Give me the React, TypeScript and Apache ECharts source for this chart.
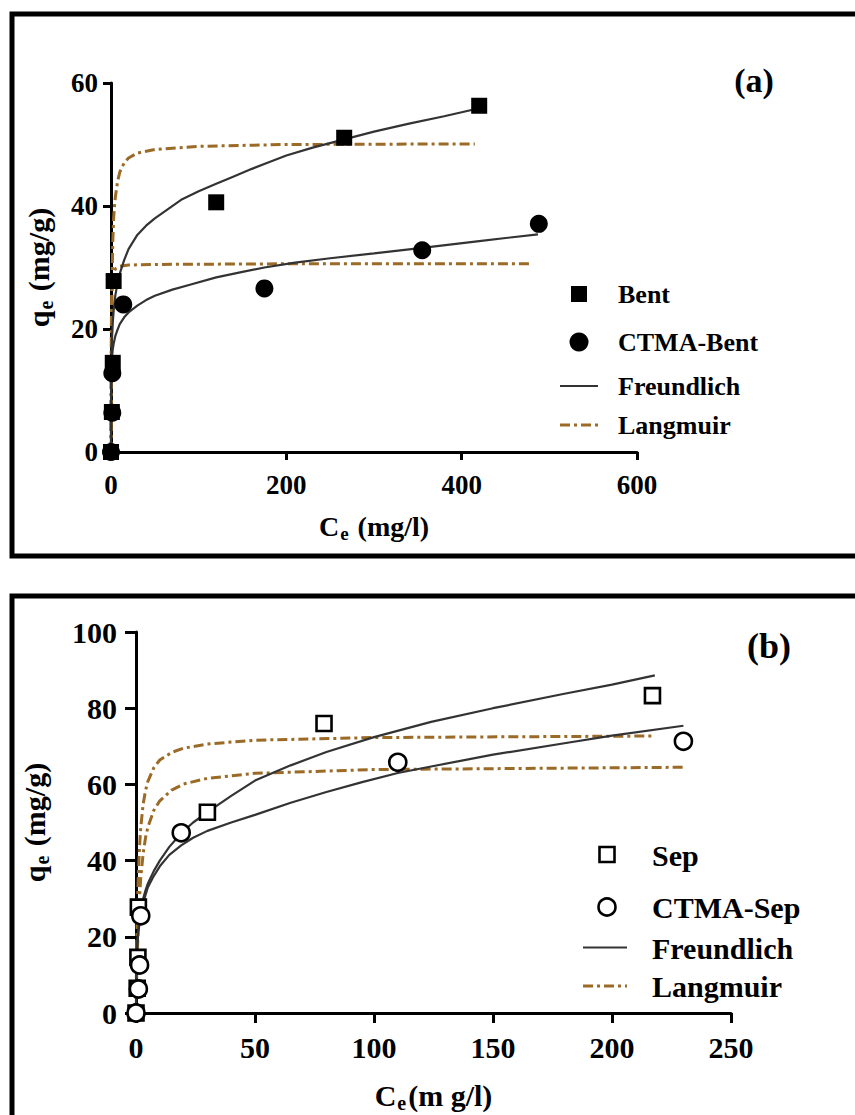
import React, { useEffect, useRef } from "react";
import * as echarts from "echarts";

const FONT = '"Liberation Serif", "Times New Roman", serif';
const BROWN = "#9b6a26";
const DARK = "#333333";

// ---------- Panel (a) ----------
const xTicksA = [0, 200, 400, 600];
const yTicksA = [0, 20, 40, 60];
const legendA = ["Bent", "CTMA-Bent", "Freundlich", "Langmuir"];

const bentPoints = [[0, 0], [1, 6.5], [2, 14.5], [3, 27.8], [120, 40.6], [266, 51.1], [420, 56.3]];
const ctmaBentPoints = [[0, 0], [1.5, 6.4], [1.5, 12.8], [14, 24], [175, 26.6], [355, 32.8], [488, 37.1]];

const bentFreundlich = [[0, 0], [0.1, 10], [0.3, 14], [0.6, 16.5], [1, 18], [2, 21], [3, 23], [5, 25.5], [7.5, 27.5], [10, 29], [15, 31.2], [20, 33], [30, 35.3], [40, 36.8], [50, 38], [65, 39.5], [80, 41], [100, 42.4], [120, 43.6], [140, 44.8], [160, 46], [180, 47.1], [200, 48.2], [230, 49.5], [265, 50.8], [300, 52.1], [340, 53.4], [380, 54.6], [420, 55.9]];
const ctmaBentFreundlich = [[0, 0], [0.1, 9], [0.3, 12], [0.6, 14], [1, 15.2], [2, 16.7], [3, 17.6], [5, 18.9], [7.5, 19.9], [10, 20.8], [15, 21.9], [20, 22.7], [30, 23.8], [40, 24.7], [50, 25.4], [70, 26.4], [90, 27.2], [120, 28.4], [150, 29.3], [175, 30], [210, 30.8], [250, 31.5], [300, 32.3], [355, 33.2], [420, 34.3], [487, 35.4]];
const bentLangmuir = [[0, 0], [0.25, 10], [0.5, 16.5], [0.75, 21.5], [1, 25], [1.5, 30], [2, 34], [3, 38], [4, 40], [5, 41.5], [7.5, 44], [10, 45.5], [15, 47], [20, 47.8], [30, 48.6], [50, 49.2], [100, 49.7], [200, 50], [415, 50.1]];
const ctmaBentLangmuir = [[0, 0], [0.1, 9], [0.2, 15], [0.35, 19.5], [0.5, 22], [0.75, 24.5], [1, 26], [1.5, 27.5], [2, 28.3], [3, 29.1], [5, 29.8], [10, 30.2], [20, 30.4], [50, 30.5], [200, 30.6], [481, 30.6]];

// ---------- Panel (b) ----------
const xTicksB = [0, 50, 100, 150, 200, 250];
const yTicksB = [0, 20, 40, 60, 80, 100];
const legendB = ["Sep", "CTMA-Sep", "Freundlich", "Langmuir"];

const sepPoints = [[0, 0], [0.5, 6.5], [0.8, 14.6], [1, 27.8], [30, 52.7], [79, 76], [217, 83.3]];
const ctmaSepPoints = [[0, 0], [1, 6.3], [1.5, 12.6], [2, 25.5], [19, 47.3], [110, 65.8], [230, 71.3]];

const sepFreundlich = [[0, 0], [0.1, 11], [0.2, 14], [0.5, 18.5], [1, 22], [1.5, 24.8], [2, 27], [3, 30], [4, 32.2], [5, 34], [7.5, 37.3], [10, 40], [14, 43.6], [19, 47.2], [24, 50], [30, 52.7], [40, 57], [50, 61], [65, 65], [80, 68.5], [100, 72.4], [124, 76.4], [150, 80], [180, 83.8], [200, 86.2], [218, 88.6]];
const ctmaSepFreundlich = [[0, 0], [0.1, 10], [0.2, 13], [0.5, 17.5], [1, 21], [1.5, 23.8], [2, 26], [3, 28.8], [4, 31], [5, 33], [7.5, 36], [10, 38.5], [14, 41.5], [19, 44], [24, 46], [30, 47.8], [40, 50], [50, 52], [65, 55.2], [80, 58], [95, 60.6], [110, 63], [124, 64.7], [150, 67.8], [180, 70.8], [200, 72.8], [230, 75.4]];
const sepLangmuir = [[0, 0], [0.25, 15], [0.5, 24.3], [0.75, 31.3], [1, 36.5], [1.5, 43.8], [2, 48.7], [3, 54.8], [4, 58.4], [5, 60.8], [7.5, 64.4], [10, 66.4], [15, 68.4], [20, 69.5], [30, 70.6], [50, 71.6], [100, 72.3], [217, 72.7]];
const ctmaSepLangmuir = [[0, 0], [0.25, 8.5], [0.5, 14.2], [1, 24.4], [1.5, 30.5], [2, 35.5], [3, 41.8], [4, 46], [5, 48.8], [7.5, 53.2], [10, 55.7], [15, 58.5], [20, 60.1], [30, 61.6], [50, 62.9], [100, 63.9], [230, 64.5]];

function axisCommon(fontSize: number, tickLen: number, margin: number) {
  return {
    type: "value" as const,
    axisLine: { show: true, onZero: false, lineStyle: { color: "#000", width: 3 } },
    axisTick: { show: true, length: tickLen, lineStyle: { color: "#000", width: 3 } },
    splitLine: { show: false },
    axisLabel: { color: "#000", fontSize, fontWeight: "bold" as const, fontFamily: FONT, margin },
  };
}

function richName(size: number, subSize: number) {
  return {
    rich: {
      b: { fontSize: size, fontWeight: "bold", fontFamily: FONT, color: "#000", lineHeight: size + 6 },
      s: { fontSize: subSize, fontWeight: "bold", fontFamily: FONT, color: "#000", verticalAlign: "bottom", padding: [10, 2, 0, 1] },
    },
  };
}

function lineSeries(data: number[][], xi: number, dashed: boolean) {
  return {
    type: "line",
    xAxisIndex: xi,
    yAxisIndex: xi,
    data,
    showSymbol: false,
    symbol: "none",
    smooth: false,
    z: 2,
    lineStyle: dashed
      ? { color: BROWN, width: 3, type: [10, 4, 3, 4] }
      : { color: DARK, width: 2.2, type: "solid" },
  };
}

function scatterSeries(data: number[][], xi: number, symbol: string, size: number, open: boolean) {
  return {
    type: "scatter",
    xAxisIndex: xi,
    yAxisIndex: xi,
    data,
    symbol,
    symbolSize: size,
    z: 3,
    itemStyle: open
      ? { color: "#fff", borderColor: "#000", borderWidth: 2.6, opacity: 1 }
      : { color: "#000", opacity: 1 },
  };
}

function txt(text: string, x: number, y: number, size: number, align = "left") {
  return {
    type: "text",
    x,
    y,
    style: { text, fill: "#000", fontSize: size, fontWeight: "bold", fontFamily: FONT, align, verticalAlign: "middle" },
  };
}

export default function App() {
  const ref = useRef<HTMLDivElement>(null);
  useEffect(() => {
    if (!ref.current) return;
    const chart = echarts.init(ref.current, null, { renderer: "svg" });
    const option: any = {
      animation: false,
      backgroundColor: "#fff",
      grid: [
        { left: 111, top: 83, width: 526, height: 369 },
        { left: 136, top: 632, width: 595, height: 381 },
      ],
      xAxis: [
        {
          ...axisCommon(27, 8, 19),
          gridIndex: 0,
          min: xTicksA[0],
          max: xTicksA[xTicksA.length - 1],
          interval: xTicksA[1] - xTicksA[0],
          name: "{b|C}{s|e}{b| (mg/l)}",
          nameLocation: "middle",
          nameGap: 57,
          nameTextStyle: richName(28, 19),
        },
        {
          ...axisCommon(30, 10, 19),
          gridIndex: 1,
          min: xTicksB[0],
          max: xTicksB[xTicksB.length - 1],
          interval: xTicksB[1] - xTicksB[0],
          name: "{b|C}{s|e}{b|(m g/l)}",
          nameLocation: "middle",
          nameGap: 64,
          nameTextStyle: richName(30, 20),
        },
      ],
      yAxis: [
        {
          ...axisCommon(27, 8, 13),
          gridIndex: 0,
          min: yTicksA[0],
          max: yTicksA[yTicksA.length - 1],
          interval: yTicksA[1] - yTicksA[0],
          name: "{b|q}{s|e}{b| (mg/g)}",
          nameLocation: "middle",
          nameRotate: 90,
          nameGap: 55,
          nameTextStyle: richName(30, 20),
        },
        {
          ...axisCommon(30, 11, 19),
          gridIndex: 1,
          min: yTicksB[0],
          max: yTicksB[yTicksB.length - 1],
          interval: yTicksB[1] - yTicksB[0],
          name: "{b|q}{s|e}{b| (mg/g)}",
          nameLocation: "middle",
          nameRotate: 90,
          nameGap: 84,
          nameTextStyle: richName(30, 20),
        },
      ],
      series: [
        lineSeries(bentLangmuir, 0, true),
        lineSeries(ctmaBentLangmuir, 0, true),
        lineSeries(bentFreundlich, 0, false),
        lineSeries(ctmaBentFreundlich, 0, false),
        scatterSeries(bentPoints, 0, "rect", 16, false),
        scatterSeries(ctmaBentPoints, 0, "circle", 18, false),
        lineSeries(sepLangmuir, 1, true),
        lineSeries(ctmaSepLangmuir, 1, true),
        lineSeries(sepFreundlich, 1, false),
        lineSeries(ctmaSepFreundlich, 1, false),
        scatterSeries(sepPoints, 1, "rect", 15, true),
        scatterSeries(ctmaSepPoints, 1, "circle", 17, true),
      ],
      graphic: [
        // frames
        { type: "rect", shape: { x: 12, y: 14, width: 900, height: 542 }, style: { fill: "none", stroke: "#000", lineWidth: 5 }, z: 10 },
        { type: "rect", shape: { x: 12, y: 596, width: 900, height: 600 }, style: { fill: "none", stroke: "#000", lineWidth: 5 }, z: 10 },
        // panel labels
        txt("(a)", 754, 80, 34, "center"),
        txt("(b)", 769, 646, 36, "center"),
        // legend (a)
        { type: "rect", shape: { x: 571, y: 286, width: 16, height: 16 }, style: { fill: "#000" } },
        { type: "circle", shape: { cx: 579, cy: 342, r: 9.5 }, style: { fill: "#000" } },
        { type: "line", shape: { x1: 560, y1: 386, x2: 598, y2: 386 }, style: { stroke: DARK, lineWidth: 2.2 } },
        { type: "line", shape: { x1: 560, y1: 425, x2: 598, y2: 425 }, style: { stroke: BROWN, lineWidth: 3, lineDash: [10, 4, 3, 4] } },
        txt(legendA[0], 618, 294, 26),
        txt(legendA[1], 618, 342, 26),
        txt(legendA[2], 618, 386, 26),
        txt(legendA[3], 618, 425, 26),
        // legend (b)
        { type: "rect", shape: { x: 599.5, y: 847, width: 15, height: 15 }, style: { fill: "#fff", stroke: "#000", lineWidth: 2.6 } },
        { type: "circle", shape: { cx: 607, cy: 907, r: 8.5 }, style: { fill: "#fff", stroke: "#000", lineWidth: 2.6 } },
        { type: "line", shape: { x1: 583, y1: 947.5, x2: 627, y2: 947.5 }, style: { stroke: DARK, lineWidth: 2.2 } },
        { type: "line", shape: { x1: 583, y1: 986, x2: 627, y2: 986 }, style: { stroke: BROWN, lineWidth: 3, lineDash: [10, 4, 3, 4] } },
        txt(legendB[0], 652, 855, 30),
        txt(legendB[1], 652, 907, 30),
        txt(legendB[2], 652, 948, 30),
        txt(legendB[3], 652, 986, 30),
      ],
    };
    chart.setOption(option);
    return () => chart.dispose();
  }, []);
  return (
    <div
      ref={ref}
      style={{ position: "absolute", left: 0, top: 0, width: 855, height: 1115, background: "#fff" }}
    />
  );
}
